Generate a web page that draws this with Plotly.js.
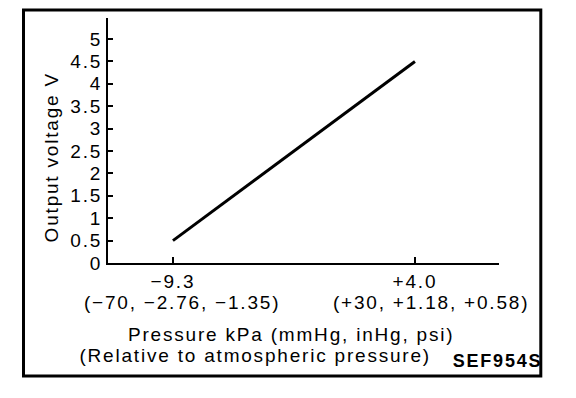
<!DOCTYPE html>
<html>
<head>
<meta charset="utf-8">
<script src="https://cdn.plot.ly/plotly-3.0.1.min.js"></script>
<style>
  html, body { margin: 0; padding: 0; background: #fff; }
  #chart { width: 576px; height: 398px; }
  .main-svg text { letter-spacing: 1.8px; }
</style>
</head>
<body>
<div id="chart"></div>
<script>
// Data
const pressureKPa = [-9.3, 4.0];
const outputVoltage = [0.5, 4.5];
const xTickVals = [-9.3, 4.0];
const xTickText = ["\u22129.3", "+4.0"];
const xTickSubText = ["(\u221270, \u22122.76, \u22121.35)", "(+30, +1.18, +0.58)"];
const yTickVals = [0, 0.5, 1, 1.5, 2, 2.5, 3, 3.5, 4, 4.5, 5];
const yTickText = ["0", "0.5", "1", "1.5", "2", "2.5", "3", "3.5", "4", "4.5", "5"];
const yTitle = "Output voltage V";
const xTitle1 = "Pressure kPa (mmHg, inHg, psi)";
const xTitle2 = "(Relative to atmospheric pressure)";
const figCode = "SEF954S";

const FONT = "Liberation Sans, Arial, Helvetica, sans-serif";
const subShift = [9, 16];

const trace = {
  x: pressureKPa,
  y: outputVoltage,
  type: "scatter",
  mode: "lines",
  line: { color: "#000", width: 3 },
  hoverinfo: "skip",
  showlegend: false
};

const annotations = xTickSubText.map((t, i) => ({
  text: t, x: xTickVals[i], xref: "x", y: -0.163, yref: "paper",
  xshift: subShift[i], showarrow: false, xanchor: "center", yanchor: "middle",
  font: { family: FONT, size: 19, color: "#000" }
}));
annotations.push(
  { text: yTitle, x: -0.143, xref: "paper", y: 0.433, yref: "paper", textangle: -90,
    showarrow: false, xanchor: "center", yanchor: "middle",
    font: { family: FONT, size: 19, color: "#000" } },
  { text: xTitle1, x: 0.469, xref: "paper", y: -0.292, yref: "paper",
    showarrow: false, xanchor: "center", yanchor: "middle",
    font: { family: FONT, size: 19, color: "#000" } },
  { text: xTitle2, x: 0.376, xref: "paper", y: -0.3795, yref: "paper",
    showarrow: false, xanchor: "center", yanchor: "middle",
    font: { family: FONT, size: 19, color: "#000" } },
  { text: figCode, x: 1.0997, xref: "paper", y: -0.398, yref: "paper",
    showarrow: false, xanchor: "right", yanchor: "middle",
    font: { family: FONT, size: 18, color: "#000", weight: "bold" } }
);

const layout = {
  width: 576, height: 398,
  margin: { l: 108, r: 77, t: 18, b: 135, pad: 0 },
  paper_bgcolor: "#fff", plot_bgcolor: "#fff",
  showlegend: false,
  xaxis: {
    range: [-12.87, 8.62], fixedrange: true,
    showgrid: false, zeroline: false,
    showline: true, linecolor: "#000", linewidth: 2,
    ticks: "inside", ticklen: 6, tickwidth: 2, tickcolor: "#000",
    tickvals: xTickVals, ticktext: xTickText,
    tickfont: { family: FONT, size: 19, color: "#000" }
  },
  yaxis: {
    range: [0, 5.47], fixedrange: true,
    showgrid: false, zeroline: false,
    showline: true, linecolor: "#000", linewidth: 2,
    ticks: "inside", ticklen: 5, tickwidth: 2, tickcolor: "#000",
    tickvals: yTickVals, ticktext: yTickText,
    tickfont: { family: FONT, size: 19, color: "#000" }
  },
  shapes: [{
    type: "rect", xref: "paper", yref: "paper",
    x0: -0.2161, x1: 1.1069, y0: -0.4612, y1: 1.0327,
    line: { color: "#000", width: 3 }, fillcolor: "rgba(0,0,0,0)", layer: "above"
  }],
  annotations: annotations
};

Plotly.newPlot("chart", [trace], layout, { staticPlot: true, displayModeBar: false });
</script>
</body>
</html>
